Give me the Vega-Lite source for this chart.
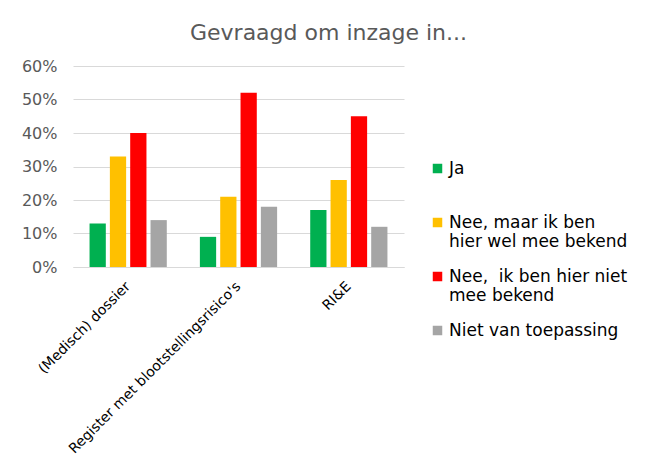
{
  "$schema": "https://vega.github.io/schema/vega-lite/v6.json",
  "width": 331,
  "height": 201,
  "autosize": {"type": "none"},
  "padding": {"left": 73, "top": 66, "right": 244, "bottom": 201},
  "background": "white",
  "title": {
    "text": "Gevraagd om inzage in...",
    "font": "DejaVu Sans",
    "fontSize": 22,
    "fontWeight": "normal",
    "color": "#595959",
    "anchor": "middle",
    "frame": "group",
    "dx": 90,
    "offset": 13
  },
  "data": {
    "values": [
      {"categorie": "(Medisch) dossier", "antwoord": "Ja", "waarde": 0.13},
      {"categorie": "(Medisch) dossier", "antwoord": "Nee, maar ik ben hier wel mee bekend", "waarde": 0.33},
      {"categorie": "(Medisch) dossier", "antwoord": "Nee,  ik ben hier niet mee bekend", "waarde": 0.40},
      {"categorie": "(Medisch) dossier", "antwoord": "Niet van toepassing", "waarde": 0.14},
      {"categorie": "Register met blootstellingsrisico's", "antwoord": "Ja", "waarde": 0.09},
      {"categorie": "Register met blootstellingsrisico's", "antwoord": "Nee, maar ik ben hier wel mee bekend", "waarde": 0.21},
      {"categorie": "Register met blootstellingsrisico's", "antwoord": "Nee,  ik ben hier niet mee bekend", "waarde": 0.52},
      {"categorie": "Register met blootstellingsrisico's", "antwoord": "Niet van toepassing", "waarde": 0.18},
      {"categorie": "RI&E", "antwoord": "Ja", "waarde": 0.17},
      {"categorie": "RI&E", "antwoord": "Nee, maar ik ben hier wel mee bekend", "waarde": 0.26},
      {"categorie": "RI&E", "antwoord": "Nee,  ik ben hier niet mee bekend", "waarde": 0.45},
      {"categorie": "RI&E", "antwoord": "Niet van toepassing", "waarde": 0.12}
    ]
  },
  "mark": {"type": "bar"},
  "encoding": {
    "x": {
      "field": "categorie",
      "type": "nominal",
      "sort": ["(Medisch) dossier", "Register met blootstellingsrisico's", "RI&E"],
      "scale": {"paddingInner": 0.3, "paddingOuter": 0.15},
      "axis": {
        "title": null,
        "labelAngle": -45,
        "labelAlign": "right",
        "labelBaseline": "middle",
        "labelPadding": 17,
        "labelFont": "DejaVu Sans",
        "labelFontSize": 14,
        "labelColor": "#000000",
        "labelLimit": 400,
        "ticks": false,
        "tickSize": 0,
        "domainColor": "#d9d9d9",
        "domainWidth": 1
      }
    },
    "xOffset": {
      "field": "antwoord",
      "type": "nominal",
      "sort": ["Ja", "Nee, maar ik ben hier wel mee bekend", "Nee,  ik ben hier niet mee bekend", "Niet van toepassing"],
      "scale": {"paddingInner": 0.2, "paddingOuter": 0}
    },
    "y": {
      "field": "waarde",
      "type": "quantitative",
      "scale": {"domain": [0, 0.6]},
      "axis": {
        "title": null,
        "format": ".0%",
        "values": [0, 0.1, 0.2, 0.3, 0.4, 0.5, 0.6],
        "domain": false,
        "ticks": false,
        "tickSize": 0,
        "labelPadding": 16,
        "labelFont": "DejaVu Sans",
        "labelFontSize": 16,
        "labelColor": "#595959",
        "gridColor": "#d9d9d9",
        "gridWidth": 1
      }
    },
    "color": {
      "field": "antwoord",
      "type": "nominal",
      "sort": ["Ja", "Nee, maar ik ben hier wel mee bekend", "Nee,  ik ben hier niet mee bekend", "Niet van toepassing"],
      "scale": {
        "domain": ["Ja", "Nee, maar ik ben hier wel mee bekend", "Nee,  ik ben hier niet mee bekend", "Niet van toepassing"],
        "range": ["#00B050", "#FFC000", "#FF0000", "#A5A5A5"]
      },
      "legend": {
        "title": null,
        "orient": "none",
        "legendX": 356,
        "legendY": 94,
        "padding": 0,
        "symbolType": "square",
        "symbolSize": 90,
        "symbolStrokeWidth": 0,
        "symbolOffset": 0,
        "labelOffset": 3,
        "labelFont": "DejaVu Sans",
        "labelFontSize": 17,
        "labelColor": "#000000",
        "labelLineHeight": 22,
        "labelLimit": 300,
        "gridAlign": "all",
        "rowPadding": 17,
        "labelExpr": "datum.label == 'Nee, maar ik ben hier wel mee bekend' ? ['Nee, maar ik ben', 'hier wel mee bekend'] : datum.label == 'Nee,  ik ben hier niet mee bekend' ? ['Nee, \u00a0ik ben hier niet', 'mee bekend'] : [datum.label, ' ']"
      }
    }
  },
  "config": {
    "view": {"stroke": null},
    "font": "DejaVu Sans"
  }
}
